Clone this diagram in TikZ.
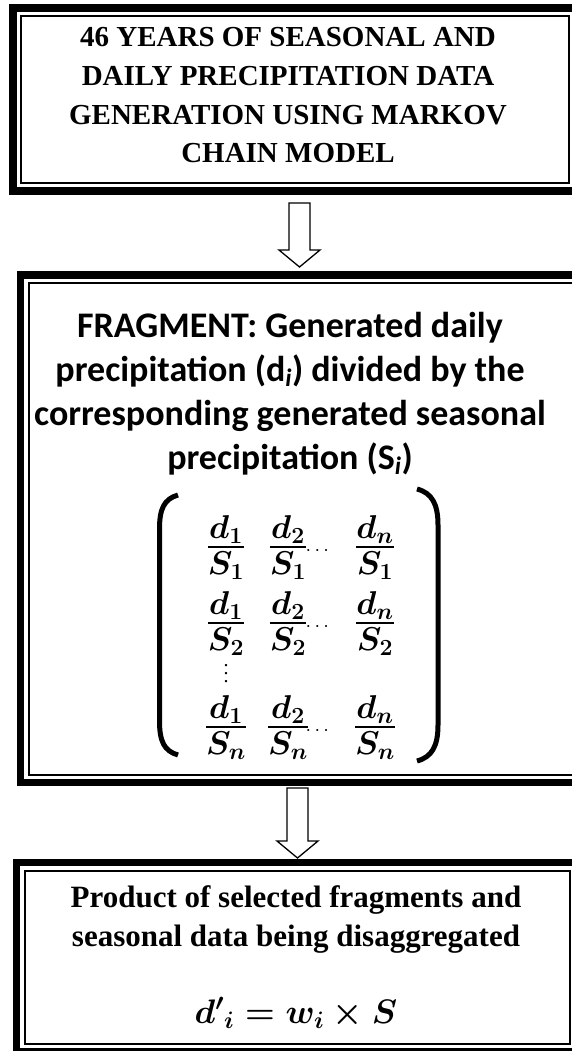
\RequirePackage{fix-cm}
\documentclass[tikz,border=0pt]{standalone}
\usepackage{amsmath}
\usepackage{fontspec}
\setmainfont{Liberation Serif}
\newfontfamily\calib{Carlito}
\usetikzlibrary{calc,fit}

% fraction with text-size parts and a heavier bar
\newcommand{\fr}[2]{\genfrac{}{}{2.4pt}{1}{\textstyle #1}{\textstyle\rule{0pt}{24pt}#2}}
% vertical dots without the top kern
\newcommand{\vdotbox}{\vbox{\baselineskip4pt\lineskiplimit0pt\hbox{.}\hbox{.}\hbox{.}}}

\begin{document}
\begin{tikzpicture}[
    x=1pt, y=1pt,
    frame/.style={draw, line width=2pt, inner sep=0pt, outer sep=0pt},
    outer/.style={draw, line width=7.5pt, inner sep=8pt, outer sep=0pt},
    titletext/.style={align=center, font=\fontsize{29}{38.7}\selectfont\bfseries},
    fragtext/.style={align=center, font=\fontsize{36}{44}\selectfont\calib\bfseries},
    prodtext/.style={align=center, font=\fontsize{31}{39}\selectfont\bfseries},
    frac/.style={inner sep=0pt, font=\fontsize{33}{40}\selectfont\boldmath},
    paren/.style={line width=5pt},
    blockarrow/.style={draw, fill=white, line width=1.3pt, to path={
        let \p1=(\tikztostart), \p2=(\tikztotarget) in
        (\x1-10.5pt,\y1) -- (\x1+10.5pt,\y1) -- (\x1+10.5pt,\y2+17pt) -- (\x1+20.5pt,\y2+17pt)
        -- (\x1,\y2) -- (\x1-20.5pt,\y2+17pt) -- (\x1-10.5pt,\y2+17pt) -- cycle}}
]
\useasboundingbox (0,0) rectangle (572,-1051);

% boxes
\node[frame, minimum width=548pt, minimum height=167pt] (gen) at (295,-99.5) {};
\node[outer, fit=(gen)] (genout) {};
\node[frame, minimum width=552.5pt, minimum height=491.5pt] (frag) at (304.75,-528.75) {};
\node[outer, fit=(frag)] (fragout) {};
\node[frame, minimum width=545pt, minimum height=173.5pt] (prod) at (297,-957.25) {};
\node[outer, fit=(prod)] (prodout) {};

% texts (anchored on the last baseline)
\node[titletext, anchor=base] (gentxt) at (288,-163)
    {46 YEARS OF SEASONAL AND\\DAILY PRECIPITATION DATA\\GENERATION USING MARKOV\\CHAIN MODEL};
\node[fragtext, anchor=base] (fragtxt) at (290,-469)
    {FRAGMENT: Generated daily\\precipitation (d\textsubscript{\textit{i}}) divided by the\\corresponding generated seasonal\\precipitation (S\textsubscript{\textit{i}})};
\node[prodtext, anchor=base] (prodtxt) at (296,-946)
    {Product of selected fragments and\\seasonal data being disaggregated};
\node[anchor=base, font=\fontsize{34}{40}\selectfont\boldmath] (formula) at (296,-1023)
    {${d'}_{i} = w_{i} \times S$};

% matrix of fragments
\foreach \r/\y in {1/547, 2/623, n/727} {
  \foreach \c/\x in {1/226, 2/288, n/375}
    \node[frac, anchor=base] (f\r\c) at (\x,-\y-8.25) {$\fr{d_{\c}}{S_{\r}}$};
  \node[font=\fontsize{20}{22}\selectfont] (dots\r) at (319,-\y-4) {$\cdots$};
}
\node[scale=2, inner sep=0pt] (vdots) at (226,-673.5) {\vdotbox};
\draw[paren] (178,-495) .. controls (164,-499) and (159.5,-509) .. (159.5,-529)
    -- (159.5,-721) .. controls (159.5,-741) and (164,-751) .. (178,-755);
\draw[paren] (417,-489) .. controls (432,-493) and (438,-504) .. (438,-525)
    -- (438,-725) .. controls (438,-746) and (432,-757) .. (417,-761);

% arrows
\coordinate (a1top) at ([xshift=4.5pt, yshift=-20pt]gen.south);
\coordinate (a1tip) at ([yshift=16pt]frag.north);
\coordinate (a2top) at ([xshift=-7.25pt, yshift=-13.5pt]frag.south);
\coordinate (a2tip) at ([yshift=12.5pt]prod.north);
\draw[blockarrow] (a1top) to (a1tip);
\draw[blockarrow] (a2top) to (a2tip);
\end{tikzpicture}
\end{document}
